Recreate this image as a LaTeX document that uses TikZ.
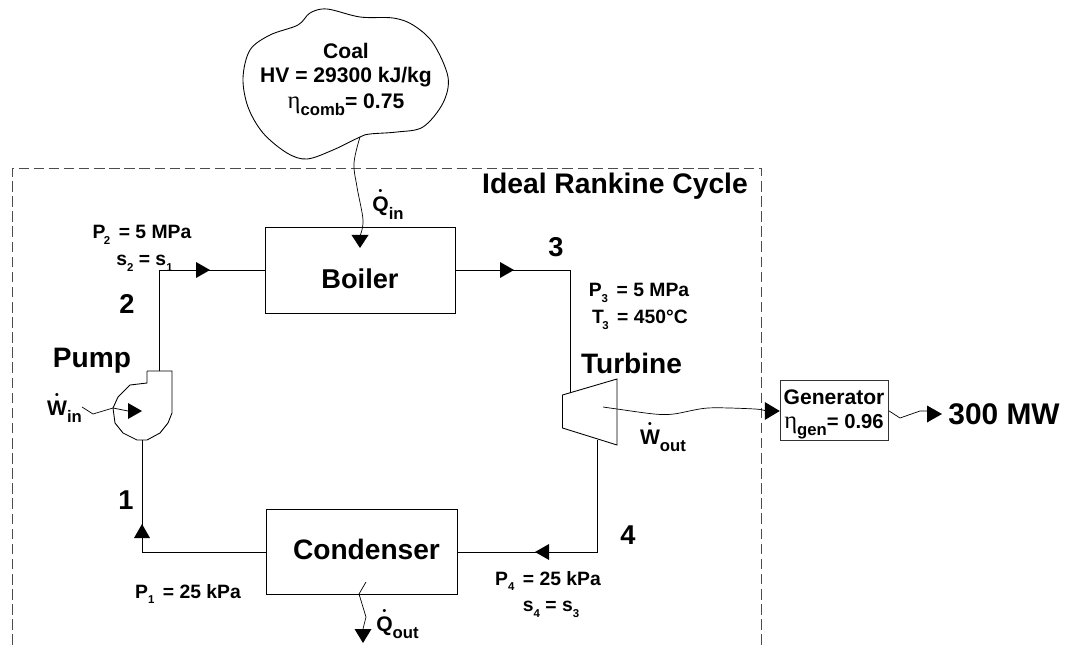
\documentclass[tikz,border=0pt]{standalone}
\usepackage{fontspec}
\setmainfont{Liberation Sans}
\newfontfamily\etafont{Liberation Serif}
\newcommand{\flowdot}[1]{\leavevmode\hbox{\ooalign{#1\cr\hfil\raisebox{0.8em}[0pt][0pt]{\fontsize{6}{6}\selectfont\textbullet}\hfil\cr}}}
\newcommand{\lowidx}[1]{\raisebox{-0.3em}{\fontsize{6.5}{7}\selectfont #1}}
\newcommand{\lowtxt}[1]{\raisebox{-0.35em}{\fontsize{9.5}{10}\selectfont #1}}
\newcommand{\etaglyph}{{\etafont\mdseries\fontsize{14}{14}\selectfont η}}
\tikzset{
	pipe/.style={draw,line width=0.5pt},
	heat/.style={draw,line width=0.4pt},
	unit/.style={draw,line width=0.5pt,inner sep=0pt},
	biglabel/.style={font=\bfseries\fontsize{15.5}{18}\selectfont,inner sep=0pt},
	namelabel/.style={font=\bfseries\fontsize{16}{18}\selectfont,inner sep=0pt},
	smalllabel/.style={font=\bfseries\fontsize{11}{13}\selectfont,inner sep=0pt},
	midlabel/.style={font=\bfseries\fontsize{12}{14}\selectfont,inner sep=0pt},
}
\begin{document}
\begin{tikzpicture}[x=0.02cm,y=-0.02cm]
	\useasboundingbox (0,0) rectangle (1065,645);
	% system boundary
	\draw[line width=0.5pt,black!70,dash pattern=on 6pt off 2.6pt] (12,645) -- (12,168) -- (761,168) -- (761,645);
	\node at (615,186) [font=\bfseries\fontsize{16.1}{19}\selectfont,inner sep=0pt] (Ncycle) {Ideal Rankine Cycle};

	\node (boiler) at (360,270.5) [unit,minimum width=3.8cm,minimum height=1.72cm] {};
	\node (Nboiler) at (360,279) [biglabel] {Boiler};
	\node (condenser) at (361.5,551.5) [unit,minimum width=3.82cm,minimum height=1.7cm] {};
	\node (Ncondenser) at (366.5,549) [namelabel] {Condenser};

	% pump and turbine
	\draw[line width=0.5pt] plot coordinates {(147,371) (172,371) (172,410) (172,413) (168,423) (160,433) (147,440) (137,440) (123,433) (115,423) (113,408) (118,397) (130,385) (147,383) (147,371)};
	\draw[line width=0.5pt] (562.5,395) -- (617,379) -- (617,445) -- (562.5,428) -- cycle;
	\coordinate (pumpin) at (142,440);
	\coordinate (pumpout) at (159,371);
	\coordinate (turbin) at (570,393);
	\coordinate (turbout) at (597,440);
	\coordinate (corner1) at (142,552);
	\coordinate (corner2) at (159,270);
	\coordinate (corner3) at (570,270);
	\coordinate (corner4) at (597,552);

	% cycle
	\draw[pipe] (pumpout) -- (corner2) -- (boiler.west |- corner2);
	\draw[pipe] (boiler.east |- corner3) -- (corner3) -- (turbin);
	\draw[pipe] (turbout) -- (corner4) -- (condenser.east |- corner4);
	\draw[pipe] (condenser.west |- corner1) -- (corner1) -- (pumpin);
	\coordinate (tipA) at (210,270);
	\coordinate (tipB) at (514,270);
	\coordinate (tipC) at (535,552);
	\coordinate (tipD) at (142,524);
	\fill (tipA) -- ++(-14,-8) -- ++(0,16) -- cycle;
	\fill (tipB) -- ++(-14,-8) -- ++(0,16) -- cycle;
	\fill (tipC) -- ++(14,-8) -- ++(0,16) -- cycle;
	\fill (tipD) -- ++(-8,14) -- ++(16,0) -- cycle;

	% coal
	\draw[line width=0.5pt] plot[smooth cycle,tension=0.55] coordinates {(298,25) (310,13) (327,9) (360,17) (393,18) (413,25) (433,43) (448,77) (443,103) (423,127) (397,132) (370,134) (360,137) (333,150) (307,159) (287,153) (263,133) (248,107) (243,78) (250,50) (270,35)};
	\coordinate (coalout) at (360,137);
	\node (Ncoal) at (346,51) [midlabel] {Coal};
	\node (Lcoal) at (346,77) [midlabel] {HV = 29300 kJ/kg};
	\node (Mcoal) at (346,105) [midlabel] {\etaglyph\lowtxt{comb}= 0.75};

	% heat and work
	\coordinate (tipQin) at (360,248);
	\draw[heat] plot[smooth,tension=0.6] coordinates {(coalout) (354,163) (357,187) (363,220) (360,236)};
	\fill (tipQin) -- ++(-8.5,-13) -- ++(17,0) -- cycle;
	\node (Nqin) at (388,208) [midlabel] {\flowdot{Q}\lowtxt{in}};

	\coordinate (winstart) at (82,407);
	\coordinate (tipWin) at (142,411);
	\draw[heat] (winstart) -- (93,414) -- (113,408) -- (128,411);
	\fill (tipWin) -- ++(-14,-8) -- ++(0,16) -- cycle;
	\node (Nwin) at (64.5,412) [midlabel] {\flowdot{W}\lowtxt{in}};

	\node (generator) at (834.5,410) [unit,minimum width=2.17cm,minimum height=1.2cm,draw=black!80] {};
	\node (Ngen) at (834,397) [midlabel] {Generator};
	\node (Lgen) at (834,427) [midlabel,font=\bfseries\fontsize{11.5}{14}\selectfont] {\etaglyph\lowtxt{gen}= 0.96};
	\coordinate (woutstart) at (603,407);
	\draw[heat] plot[smooth,tension=0.5] coordinates {(woutstart) (617,409) (654,414) (674,414) (708,408) (755,409) (766,411)};
	\fill (generator.west |- 0,411) -- ++(-15,-9) -- ++(0,18) -- cycle;
	\node (Nwout) at (663,441) [midlabel] {\flowdot{W}\lowtxt{out}};

	\coordinate (tipMw) at (942,414);
	\draw[heat] (generator.east |- 0,411) -- (900,418) -- (920,411) -- (928,411);
	\fill (tipMw) -- ++(-15,-8.5) -- ++(0,17) -- cycle;
	\node (Nmw) at (1004,414) [font=\bfseries\fontsize{17}{20}\selectfont,inner sep=0pt] {300 MW};

	\coordinate (qoutstart) at (366,582);
	\draw[heat] (qoutstart) -- (359,594) -- (366,617) -- (363,629);
	\fill (363,643) -- ++(-8.5,-14) -- ++(17,0) -- cycle;
	\node (Nqout) at (397.5,628) [midlabel] {\flowdot{Q}\lowtxt{out}};

	% labels
	\node (Npump) at (92,361) [namelabel] {Pump};
	\node (Nturb) at (631.5,363) [namelabel] {Turbine};
	\node (N1) at (126,500) [biglabel] {1};
	\node (N2) at (127,304) [biglabel] {2};
	\node (N3) at (556,247) [biglabel] {3};
	\node (N4) at (628,535) [biglabel] {4};
	\node (Lp2) at (142,235) [smalllabel] {P\kern-1pt\lowidx{2}\, = 5 MPa};
	\node (Ls2) at (144.5,263) [smalllabel] {s\lowidx{2} = s\lowidx{1}};
	\node (Lp3) at (639,293) [smalllabel] {P\lowidx{3}\, = 5 MPa};
	\node (Lt3) at (640,320) [smalllabel] {T\kern-1pt\lowidx{3}\, = 450°C};
	\node (Lp4) at (548,581) [smalllabel] {P\lowidx{4}\, = 25 kPa};
	\node (Ls4) at (551,609) [smalllabel] {s\lowidx{4} = s\lowidx{3}};
	\node (Lp1) at (188,594) [smalllabel] {P\lowidx{1}\, = 25 kPa};
\end{tikzpicture}
\end{document}
